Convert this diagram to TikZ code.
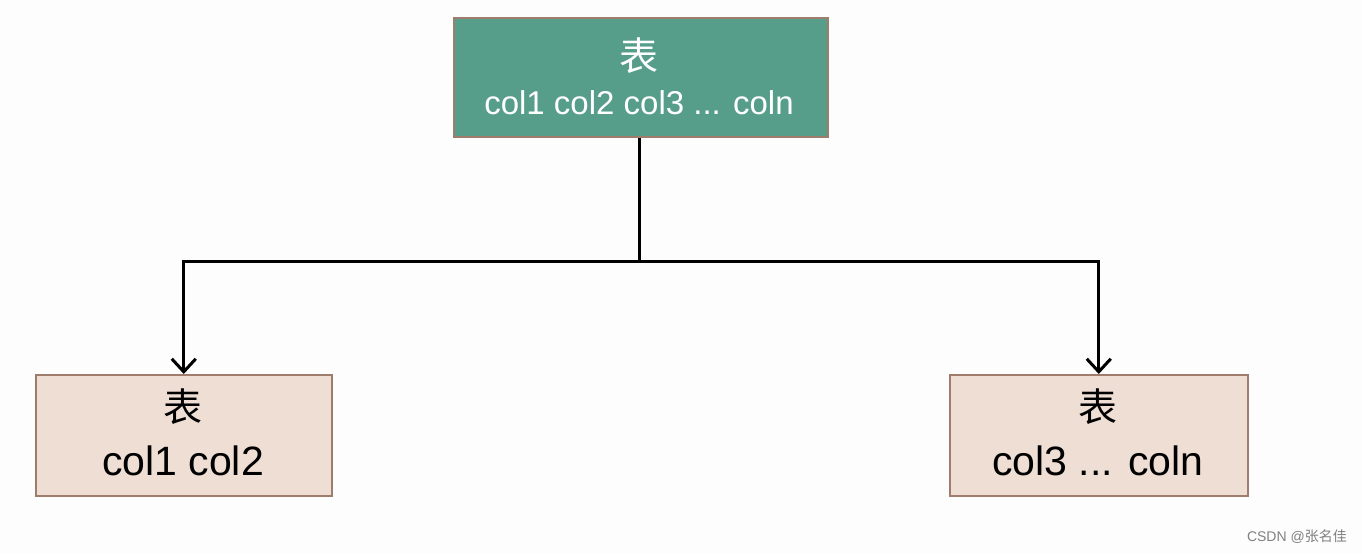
\documentclass[tikz,border=0pt]{standalone}
\usepackage{fontspec}
\setmainfont{Liberation Sans}
\newfontfamily\cjk{Noto Sans CJK SC}
\usetikzlibrary{arrows.meta}
\definecolor{topfill}{RGB}{86,158,137}
\definecolor{boxedge}{RGB}{158,125,108}
\definecolor{subfill}{RGB}{239,222,212}
\definecolor{bgc}{RGB}{253,253,253}
\tikzset{
  box/.style={draw=boxedge, line width=1.5pt, inner sep=0pt, anchor=north west},
  conn/.style={line width=3pt, -{Straight Barb[length=13pt,width=24pt,line width=3pt]}},
  cjktxt/.style={font=\cjk\fontsize{39}{44}\selectfont, inner sep=0pt},
  lattxt/.style={font=\fontsize{33}{38}\selectfont, inner sep=0pt},
}
\begin{document}
\begin{tikzpicture}[x=1pt,y=-1pt]
\fill[bgc] (0,0) rectangle (1362,554);
\useasboundingbox (0,0) rectangle (1362,554);
% boxes
\node[box, fill=topfill, minimum width=374pt, minimum height=119pt] (top) at (453,17) {};
\node[box, fill=subfill, minimum width=296pt, minimum height=121pt] (left) at (35,374) {};
\node[box, fill=subfill, minimum width=298pt, minimum height=121pt] (right) at (949,374) {};
% texts
\node[cjktxt, text=white] (t1) at (639,56) {表};
\node[lattxt, text=white] (t2) at (639,103) {col1 col2 col3 ... coln};
\node[cjktxt] (l1) at (183,407) {表};
\node[lattxt, font=\fontsize{41}{46}\selectfont] (l2) at (183,461) {col1 col2};
\node[cjktxt] (r1) at (1098,407) {表};
\node[lattxt, font=\fontsize{41}{46}\selectfont] (r2) at (1098,461) {col3 ... coln};
% connectors
\coordinate (j) at (639,261);
\draw[line width=3pt] (top.south -| j) -- (j);
\draw[conn] (j) -| (left.north);
\draw[conn] (j) -| (right.north);
% watermark
\node[font=\fontsize{14}{16}\selectfont, text=black!50, anchor=east, inner sep=0pt] (wm) at (1347,537) {CSDN @{\cjk 张名佳}};
\end{tikzpicture}
\end{document}
